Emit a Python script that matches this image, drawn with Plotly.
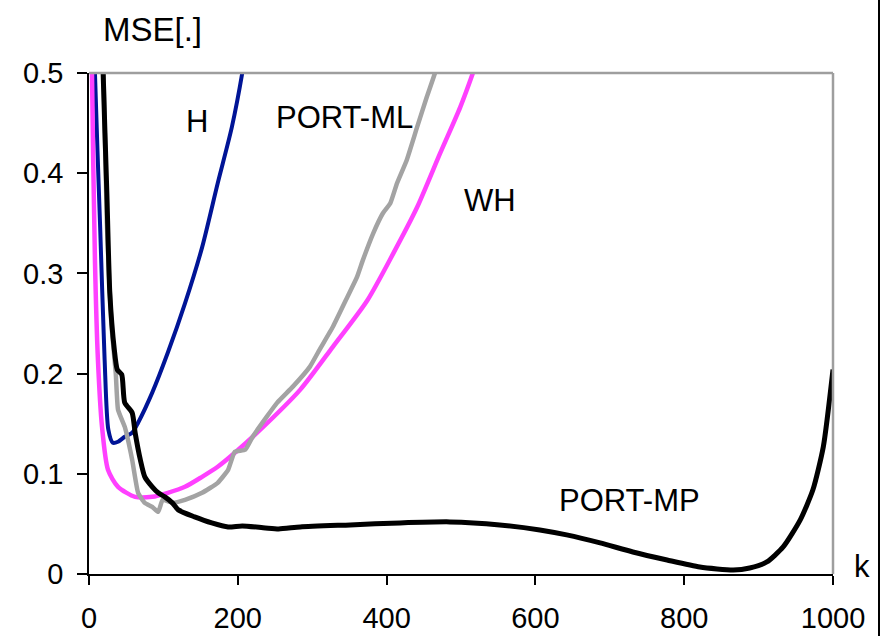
import plotly.graph_objects as go

# H estimator
k_h = [5, 8, 15, 21, 26, 32, 39, 48, 58, 66, 85, 106, 129, 152, 173, 192, 206, 212]
mse_h = [0.62, 0.50, 0.346, 0.214, 0.144, 0.131, 0.132, 0.137, 0.141, 0.151, 0.181,
         0.221, 0.270, 0.326, 0.390, 0.446, 0.50, 0.53]

# WH estimator
k_wh = [2, 4, 8, 12, 17.5, 25.5, 39, 62, 85, 106, 129, 152, 173, 196, 226, 284, 328,
        374, 409, 441, 472, 499, 516, 525]
mse_wh = [0.70, 0.50, 0.313, 0.214, 0.147, 0.104, 0.087, 0.077, 0.077, 0.081, 0.087,
          0.097, 0.107, 0.121, 0.141, 0.184, 0.227, 0.273, 0.320, 0.366, 0.420, 0.466,
          0.50, 0.52]

# PORT-ML estimator
k_ml = [18, 24, 30, 36, 39, 48, 58, 66, 75, 85, 93, 99, 112, 129, 152, 173, 187, 196,
        210, 220, 239, 253, 274, 297, 310, 328, 347, 360, 368, 382, 395, 405, 414, 427,
        441, 454, 465, 472]
mse_ml = [0.55, 0.35, 0.25, 0.20, 0.164, 0.147, 0.114, 0.081, 0.071, 0.067, 0.062,
          0.074, 0.071, 0.074, 0.081, 0.091, 0.104, 0.122, 0.124, 0.137, 0.157, 0.171,
          0.187, 0.207, 0.224, 0.247, 0.276, 0.296, 0.313, 0.340, 0.360, 0.370, 0.390,
          0.413, 0.446, 0.476, 0.50, 0.52]

# PORT-MP estimator
k_mp = [16, 19, 24, 28, 34, 38, 44, 48, 58, 62, 69, 75, 85, 93, 102, 112, 120, 142, 165,
        187, 206, 237, 255, 284, 351, 418, 485, 552, 606, 642, 687, 731, 777, 821, 866,
        888, 911, 933, 956, 973, 987, 1000]
mse_mp = [0.60, 0.50, 0.380, 0.280, 0.224, 0.204, 0.199, 0.171, 0.161, 0.141, 0.114,
          0.097, 0.087, 0.081, 0.077, 0.071, 0.064, 0.057, 0.051, 0.047, 0.048, 0.046,
          0.045, 0.047, 0.049, 0.051, 0.052, 0.049, 0.044, 0.039, 0.031, 0.022, 0.014,
          0.007, 0.004, 0.006, 0.012, 0.027, 0.054, 0.084, 0.127, 0.204]

x_ticks = [0, 200, 400, 600, 800, 1000]
y_ticks = [0, 0.1, 0.2, 0.3, 0.4, 0.5]
y_tick_text = ["0", "0.1", "0.2", "0.3", "0.4", "0.5"]

FONT = "Liberation Sans, Arial, sans-serif"

fig = go.Figure()
fig.add_trace(go.Scatter(x=k_h, y=mse_h, mode="lines", name="H",
                         line=dict(color="#001496", width=4, shape="spline", smoothing=0.7)))
fig.add_trace(go.Scatter(x=k_wh, y=mse_wh, mode="lines", name="WH",
                         line=dict(color="#FF40FF", width=4.5, shape="spline", smoothing=0.7)))
fig.add_trace(go.Scatter(x=k_ml, y=mse_ml, mode="lines", name="PORT-ML",
                         line=dict(color="#A3A3A3", width=4.5, shape="spline", smoothing=0.4)))
fig.add_trace(go.Scatter(x=k_mp, y=mse_mp, mode="lines", name="PORT-MP",
                         line=dict(color="#000000", width=5, shape="spline", smoothing=0.6)))

labels = [("H", 145, 0.452), ("PORT-ML", 344, 0.456), ("WH", 539, 0.373),
          ("PORT-MP", 727, 0.073)]
for txt, xx, yy in labels:
    fig.add_annotation(x=xx, y=yy, text=txt, showarrow=False,
                       xanchor="center", yanchor="middle",
                       font=dict(family=FONT, size=31, color="#000"))

# axis titles placed in paper coordinates (outside the plot area)
fig.add_annotation(xref="paper", yref="paper", x=(152 - 89) / 744, y=(574 - 30) / 501,
                   text="MSE[.]", showarrow=False, xanchor="center", yanchor="middle",
                   font=dict(family=FONT, size=33, color="#000"))
fig.add_annotation(xref="paper", yref="paper", x=(862 - 89) / 744, y=(574 - 566) / 501,
                   text="k", showarrow=False, xanchor="center", yanchor="middle",
                   font=dict(family=FONT, size=31, color="#000"))

# gray top and right border of plot area
fig.add_shape(type="line", xref="paper", yref="paper", x0=0, x1=1, y0=1, y1=1,
              line=dict(color="#9E9E9E", width=2.5), layer="above")
fig.add_shape(type="line", xref="paper", yref="paper", x0=1, x1=1, y0=0, y1=1,
              line=dict(color="#9E9E9E", width=2.5), layer="above")
# outer frame line at right
fig.add_shape(type="line", xref="paper", yref="paper", x0=(879 - 89) / 744,
              x1=(879 - 89) / 744, y0=-0.2, y1=1.2, line=dict(color="#000", width=2))

fig.update_layout(
    width=888, height=636,
    margin=dict(l=89, r=55, t=73, b=62, autoexpand=False),
    paper_bgcolor="white", plot_bgcolor="white",
    showlegend=False,
    font=dict(family=FONT, size=29, color="#000"),
    xaxis=dict(range=[0, 1000], tickvals=x_ticks, showgrid=False, zeroline=False,
               showline=True, linecolor="#000", linewidth=1.5, ticks="outside",
               ticklen=9, tickcolor="#000", tickwidth=1.5, ticklabelstandoff=8,
               automargin=False, tickfont=dict(family=FONT, size=29)),
    yaxis=dict(range=[0, 0.5], tickvals=y_ticks, ticktext=y_tick_text, showgrid=False,
               zeroline=False, showline=True, linecolor="#000", linewidth=1.5,
               ticks="outside", ticklen=10, tickcolor="#000", tickwidth=1.5,
               ticklabelstandoff=8, automargin=False, tickfont=dict(family=FONT, size=29)),
)

fig.write_html("out.html")
